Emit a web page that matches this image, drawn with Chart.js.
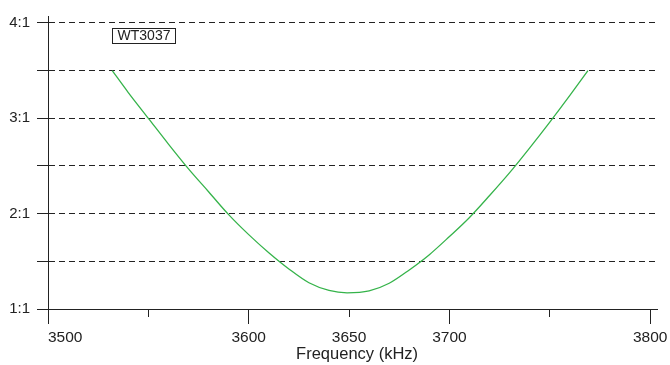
<!DOCTYPE html>
<html><head><meta charset="utf-8">
<script src="https://cdn.jsdelivr.net/npm/chart.js@4"></script>
<style>html,body{margin:0;padding:0;background:#fff}#wrap{width:670px;height:365px}</style>
</head><body><div id="wrap"><canvas id="c" width="670" height="365"></canvas></div>
<script>
// Data
const freqs = [3532, 3540, 3550, 3560, 3570, 3580, 3590, 3600, 3610, 3620, 3630, 3640, 3649, 3660, 3670, 3680, 3690, 3700, 3710, 3720, 3730, 3740, 3750, 3760, 3769];
const swr   = [3.50, 3.27, 3.00, 2.73, 2.47, 2.23, 1.99, 1.78, 1.59, 1.42, 1.275, 1.195, 1.17, 1.19, 1.27, 1.41, 1.57, 1.76, 1.96, 2.19, 2.43, 2.69, 2.96, 3.24, 3.50];
const xTicks = [3500, 3550, 3600, 3650, 3700, 3750, 3800];
const xLabeled = [3500, 3600, 3650, 3700, 3800];
const xMajor = [3500, 3600, 3700, 3800];
const yTicks = [1, 1.5, 2, 2.5, 3, 3.5, 4];
const yLabels = {1: '1:1', 2: '2:1', 3: '3:1', 4: '4:1'};
const seriesLabel = 'WT3037';
const xTitle = 'Frequency (kHz)';

const FONT = '"Liberation Sans", Arial, Helvetica, sans-serif';
const INK = '#222';

const labelBox = {
  id: 'labelBox',
  afterDatasetsDraw(chart) {
    const {ctx, scales: {x, y}} = chart;
    const px = Math.round(x.getPixelForValue(3532));
    const py = Math.round(y.getPixelForValue(3.948));
    ctx.save();
    ctx.font = '14px ' + FONT;
    const w = ctx.measureText(seriesLabel).width;
    const bw = Math.round(w + 10), bh = 15;
    ctx.fillStyle = '#fff';
    ctx.fillRect(px, py, bw, bh);
    ctx.strokeStyle = INK;
    ctx.lineWidth = 1;
    ctx.strokeRect(px + 0.5, py + 0.5, bw, bh);
    ctx.fillStyle = INK;
    ctx.textAlign = 'center';
    ctx.textBaseline = 'middle';
    ctx.fillText(seriesLabel, px + bw / 2 + 0.5, py + bh / 2 + 1);
    ctx.restore();
  }
};

new Chart(document.getElementById('c'), {
  type: 'line',
  data: {
    datasets: [{
      label: seriesLabel,
      data: freqs.map((f, i) => ({x: f, y: swr[i]})),
      borderColor: '#35b34a',
      borderWidth: 1.3,
      pointRadius: 0,
      cubicInterpolationMode: 'monotone',
      fill: false
    }]
  },
  options: {
    responsive: false,
    animation: false,
    devicePixelRatio: 1,
    layout: {padding: {top: 13, right: 13, left: 0, bottom: 0}},
    plugins: {legend: {display: false}, tooltip: {enabled: false}},
    scales: {
      x: {
        type: 'linear',
        min: 3500,
        max: 3803.4,
        afterBuildTicks: s => { s.ticks = xTicks.map(v => ({value: v})); },
        afterFit: s => { s.height = 56; s.paddingRight = 0; s.paddingLeft = 0; },
        ticks: {
          autoSkip: false,
          maxRotation: 0,
          padding: 4,
          color: INK,
          font: {family: FONT, size: 15.5},
          callback: v => v === 3500 ? ' '.repeat(8) + v : (xLabeled.includes(v) ? String(v) : '')
        },
        grid: {
          drawOnChartArea: false,
          drawTicks: true,
          tickLength: 15,
          tickColor: INK,
          tickWidth: 1,
          tickBorderDash: ctx => (ctx.tick && xMajor.includes(ctx.tick.value)) ? [] : [7, 40]
        },
        border: {display: true, color: INK, width: 1},
        title: {
          display: true,
          text: '  ' + xTitle,
          color: INK,
          font: {family: FONT, size: 16.5},
          padding: {top: 0, bottom: 1}
        }
      },
      y: {
        type: 'linear',
        min: 1,
        max: 4.073,
        afterBuildTicks: s => { s.ticks = yTicks.map(v => ({value: v})); },
        afterFit: s => { s.width = 48; },
        ticks: {
          padding: 7,
          color: INK,
          font: {family: FONT, size: 15},
          callback: v => yLabels[v] || ''
        },
        grid: {
          color: ctx => (ctx.tick && ctx.tick.value === 1) ? 'rgba(0,0,0,0)' : INK,
          lineWidth: 1,
          drawTicks: true,
          tickLength: 11,
          tickColor: INK,
          tickWidth: 1,
          tickBorderDash: []
        },
        border: {display: true, color: INK, width: 1, dash: [6, 4]}
      }
    }
  },
  plugins: [labelBox]
});
</script>
</body></html>
